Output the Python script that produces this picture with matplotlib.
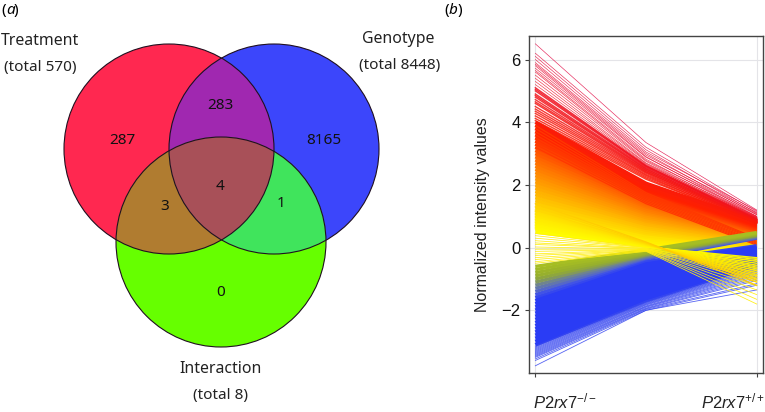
import numpy as np
import matplotlib
matplotlib.use('Agg')
import matplotlib.pyplot as plt
from matplotlib.colors import LinearSegmentedColormap
from matplotlib.patches import Circle, Polygon

plt.rcParams['mathtext.fontset'] = 'custom'
plt.rcParams['mathtext.it'] = 'Liberation Sans:italic'
plt.rcParams['mathtext.rm'] = 'Liberation Sans'
plt.rcParams['axes.unicode_minus'] = True

# Venn counts and labels
venn_names = ['Treatment', 'Genotype', 'Interaction']
venn_totals = ['(total 570)', '(total 8448)', '(total 8)']
venn_counts = [287, 283, 8165, 4, 3, 1, 0]

# line panel: value at the left, hidden middle and right of each profile
warm_start = [0.5, 0.6, 0.7, 0.8, 0.9, 1.0, 1.1, 1.2, 1.3, 1.4, 1.5, 1.6, 1.7, 1.8, 1.9, 2.0, 2.1, 2.2,
              2.3, 2.4, 2.5, 2.6, 2.7, 2.8, 2.9, 3.0, 3.1, 3.2, 3.3, 3.4, 3.5, 3.6, 3.7, 3.8, 3.9, 4.0]
warm_mid = [0.05, 0.1, 0.15, 0.2, 0.27, 0.33, 0.38, 0.45, 0.5, 0.56, 0.62, 0.68, 0.74, 0.8, 0.85, 0.9, 0.96, 1.02,
            1.08, 1.13, 1.18, 1.24, 1.3, 1.35, 1.4, 1.46, 1.52, 1.58, 1.63, 1.68, 1.74, 1.8, 1.85, 1.92, 1.98, 2.05]
warm_end = [-0.4, -0.3, -0.2, -0.12, -0.05, 0.0, 0.03, 0.06, 0.09, 0.12, 0.15, 0.18, 0.21, 0.24, 0.27, 0.3, 0.32, 0.34,
            0.36, 0.38, 0.4, 0.42, 0.44, 0.46, 0.48, 0.5, 0.53, 0.56, 0.59, 0.62, 0.65, 0.68, 0.72, 0.76, 0.8, 0.84]

# red profiles that end below the olive band
ember_start = [3.9, 3.8, 3.7, 3.6, 3.5, 3.4, 3.3, 3.2]
ember_mid = [1.75, 1.7, 1.65, 1.6, 1.55, 1.5, 1.45, 1.4]
ember_end = [0.3, 0.27, 0.24, 0.2, 0.17, 0.14, 0.11, 0.08]

red_start = [6.5, 6.2, 6.1, 6.0, 5.9, 5.85, 5.8, 5.72, 5.65, 5.6, 5.5, 5.4, 5.3, 5.2, 5.1, 5.05, 5.0, 4.9, 4.85,
             4.8, 4.72, 4.65, 4.6, 4.5, 4.42, 4.35, 4.28, 4.2, 4.12, 4.05]
red_mid = [3.35, 3.2, 3.12, 3.05, 3.0, 2.95, 2.9, 2.88, 2.82, 2.78, 2.75, 2.7, 2.68, 2.65, 2.62, 2.6, 2.58, 2.55, 2.52,
           2.5, 2.47, 2.45, 2.42, 2.4, 2.37, 2.33, 2.3, 2.26, 2.22, 2.18]
red_end = [1.2, 1.15, 1.1, 1.18, 1.05, 1.12, 1.0, 1.08, 0.98, 1.05, 0.95, 1.0, 0.92, 0.98, 0.9, 0.95, 0.88, 0.92, 0.85,
           0.9, 0.84, 0.88, 0.82, 0.86, 0.8, 0.84, 0.78, 0.82, 0.78, 0.8]

blue_start = [-1.6, -1.7, -1.8, -1.9, -2.0, -2.1, -2.2, -2.3, -2.4, -2.5, -2.6, -2.7, -2.8, -2.9, -3.0, -3.1]
blue_mid = [-0.45, -0.53, -0.6, -0.68, -0.75, -0.83, -0.9, -1.0, -1.08, -1.15, -1.25, -1.33, -1.42, -1.5, -1.6, -1.68]
blue_end = [0.05, 0.01, -0.03, -0.07, -0.1, -0.14, -0.18, -0.22, -0.26, -0.3, -0.34, -0.38, -0.42, -0.46, -0.5, -0.56]

edge_start = [-3.77, -3.6, -3.55, -3.5, -3.47, -3.44, -3.41, -3.38, -3.35, -3.32, -3.29, -3.26, -3.23, -3.2, -3.17, -3.14]
edge_mid = [-2.0, -2.0, -1.97, -1.95, -1.93, -1.9, -1.88, -1.86, -1.83, -1.81, -1.79, -1.77, -1.75, -1.74, -1.72, -1.7]
edge_end = [-1.2, -1.35, -1.15, -1.05, -1.0, -0.95, -0.9, -0.86, -0.82, -0.78, -0.75, -0.72, -0.69, -0.66, -0.63, -0.6]

olive_start = [-1.5, -1.4, -1.3, -1.2, -1.1, -1.0, -0.9, -0.8, -0.7, -0.6]
olive_mid = [-0.36, -0.33, -0.3, -0.27, -0.24, -0.21, -0.18, -0.15, -0.12, -0.08]
olive_end = [0.3, 0.32, 0.34, 0.36, 0.38, 0.4, 0.42, 0.44, 0.46, 0.48]

pale_start = [0.45, 0.38, 0.3, 0.22, 0.15, 0.1, 0.02, -0.05, -0.12, -0.2, -0.25, -0.32, -0.38, -0.45, -0.5]
pale_mid = [0.02, 0.0, 0.0, -0.02, -0.03, -0.03, -0.05, -0.05, -0.06, -0.06, -0.08, -0.08, -0.1, -0.1, -0.12]
pale_end = [-0.35, -0.42, -0.5, -0.58, -0.65, -0.72, -0.8, -0.9, -1.0, -1.1, -1.22, -1.35, -1.5, -1.65, -1.8]

# yellow and orange profiles that fan out over the right end
fan_start = [0.6, 0.65, 0.7, 0.75, 0.8, 0.85, 0.9, 0.95, 1.0, 1.05, 1.1, 1.15, 1.2, 1.3, 1.4]
fan_mid = [0.02, 0.03, 0.04, 0.05, 0.06, 0.07, 0.08, 0.09, 0.1, 0.11, 0.12, 0.13, 0.14, 0.16, 0.18]
fan_end = [-0.32, -0.38, -0.44, -0.5, -0.56, -0.62, -0.68, -0.74, -0.8, -0.86, -0.92, -0.98, -1.04, -1.1, -1.2]

y_ticks = [-2, 0, 2, 4, 6]
x_labels = [r'$\mathit{P2rx7}^{-/-}$', r'$\mathit{P2rx7}^{+/+}$']

fig = plt.figure(figsize=(7.65, 4.12), dpi=100)

# whole-figure axes in pixels for the Venn diagram
bg = fig.add_axes([0, 0, 1, 1])
bg.set_xlim(0, 765)
bg.set_ylim(412, 0)
bg.axis('off')

circles = [(169, 149, 105), (274, 149, 105), (221, 242, 105)]


def overlap(which):
    # outline of the area shared by some circles, they are convex so sort by angle
    pts = []
    for i in which:
        cx, cy, r = circles[i]
        for a in np.linspace(0, 2 * np.pi, 1500):
            p = (cx + r * np.cos(a), cy + r * np.sin(a))
            if all(np.hypot(p[0] - circles[j][0], p[1] - circles[j][1]) <= circles[j][2] + 0.01 for j in which):
                pts.append(p)
    pts = np.array(pts)
    mid = pts.mean(axis=0)
    return pts[np.argsort(np.arctan2(pts[:, 1] - mid[1], pts[:, 0] - mid[0]))]


for which, col_ in [([0], '#ff2850'), ([1], '#3c46fb'), ([2], '#66ff00'),
                    ([0, 1], '#a028b0'), ([0, 2], '#b07c30'), ([1, 2], '#40e45c'),
                    ([0, 1, 2], '#a85058')]:
    bg.add_patch(Polygon(overlap(which), closed=True, fc=col_, ec='none'))
for cx, cy, r in circles:
    bg.add_patch(Circle((cx, cy), r, fc='none', ec='#201020', lw=0.8))

venn_font = 'Noto Sans'
for (x, y), s in zip([(122, 141), (220, 105), (324, 141), (220, 186), (165, 206), (281, 203), (221, 292)], venn_counts):
    bg.text(x, y, str(s), ha='center', va='center', fontsize=11, family=venn_font, color='#111111')
for (x, y), s in zip([(40, 41), (398, 39), (221, 369)], venn_names):
    bg.text(x, y, s, ha='center', va='center', fontsize=11.4, family=venn_font, color='#222222')
for (x, y), s in zip([(40, 67), (400, 65), (221, 395)], venn_totals):
    bg.text(x, y, s, ha='center', va='center', fontsize=11, family=venn_font, color='#222222')
bg.text(1, 10, '(', ha='left', va='center', fontsize=11, family=venn_font)
bg.text(6, 10, 'a', ha='left', va='center', fontsize=11, family=venn_font, style='italic')
bg.text(14, 10, ')', ha='left', va='center', fontsize=11, family=venn_font)
bg.text(444, 10, '(', ha='left', va='center', fontsize=11, family=venn_font)
bg.text(449, 10, 'b', ha='left', va='center', fontsize=11, family=venn_font, style='italic')
bg.text(458, 10, ')', ha='left', va='center', fontsize=11, family=venn_font)

# line panel
ax = fig.add_axes([529 / 765, 1 - 373 / 412, 234 / 765, 337 / 412])
ax.set_xlim(-0.0287, 1.0285)
ax.set_ylim(-4.0, 6.75)

cmap = LinearSegmentedColormap.from_list('profile', [
    (0.0, '#2a3cf5'), (0.205, '#2a3cf5'), (0.225, '#4a5ce0'), (0.245, '#6c8098'), (0.27, '#93ac30'),
    (0.31, '#a8c020'), (0.41, '#ffff00'), (0.46, '#ffe800'), (0.54, '#ffb000'), (0.63, '#ff7000'),
    (0.72, '#ff2000'), (1.0, '#e00040')])


def col(v):
    return cmap((v + 3.8) / 10.4)


x_pos = [0, 0.5, 1]
for s, m, e in zip(warm_start, warm_mid, warm_end):
    ax.plot(x_pos, [s, m, e], color=col(s), lw=2.6, solid_capstyle='butt', zorder=3)
for s, m, e in zip(ember_start, ember_mid, ember_end):
    ax.plot(x_pos, [s, m, e], color='#ff3800', lw=0.9, solid_capstyle='butt', zorder=3)
for s, m, e in zip(red_start, red_mid, red_end):
    ax.plot(x_pos, [s, m, e], color=col(s), lw=1.0 if s < 5.2 else 0.45, alpha=0.85, zorder=3)
for s, m, e in zip(blue_start, blue_mid, blue_end):
    ax.plot(x_pos, [s, m, e], color=col(s), lw=2.8, solid_capstyle='butt', zorder=4)
for s, m, e in zip(edge_start, edge_mid, edge_end):
    ax.plot(x_pos, [s, m, e], color='#3848f0', lw=0.6, alpha=0.85, zorder=4)
for s, m, e in zip(olive_start, olive_mid, olive_end):
    ax.plot(x_pos, [s, m, e], color=col(s), lw=2.4, solid_capstyle='butt', zorder=5)
for s, m, e in zip(pale_start, pale_mid, pale_end):
    ax.plot(x_pos, [s, m, e], color='#ffee10', lw=0.55, zorder=6)
for s, m, e in zip(fan_start, fan_mid, fan_end):
    ax.plot(x_pos, [s, m, e], color=col(s), lw=0.9, zorder=6)

ax.set_yticks(y_ticks)
ax.set_yticklabels(['\u22122', '0', '2', '4', '6'], fontsize=12, family='Liberation Sans', color='#111111')
ax.set_xticks([0, 1])
ax.set_xticklabels([])
ax.tick_params(axis='x', length=3, color='#444444', width=0.8)
ax.tick_params(axis='y', pad=3, length=3, color='#444444', width=0.8)
ax.grid(True, color='#e4e4e8', lw=0.8, zorder=0)
ax.set_axisbelow(True)
for sp in ax.spines.values():
    sp.set_color('#444444')
    sp.set_linewidth(1.0)
bg.text(533, 402, x_labels[0], ha='left', va='center', fontsize=12, color='#222222')
bg.text(765, 402, x_labels[1], ha='right', va='center', fontsize=12, color='#222222')
bg.text(483, 215, 'Normalized intensity values', rotation=90, ha='center', va='center',
        fontsize=11.5, family='Liberation Sans', color='#222222')

fig.savefig('out.png', dpi=100)
